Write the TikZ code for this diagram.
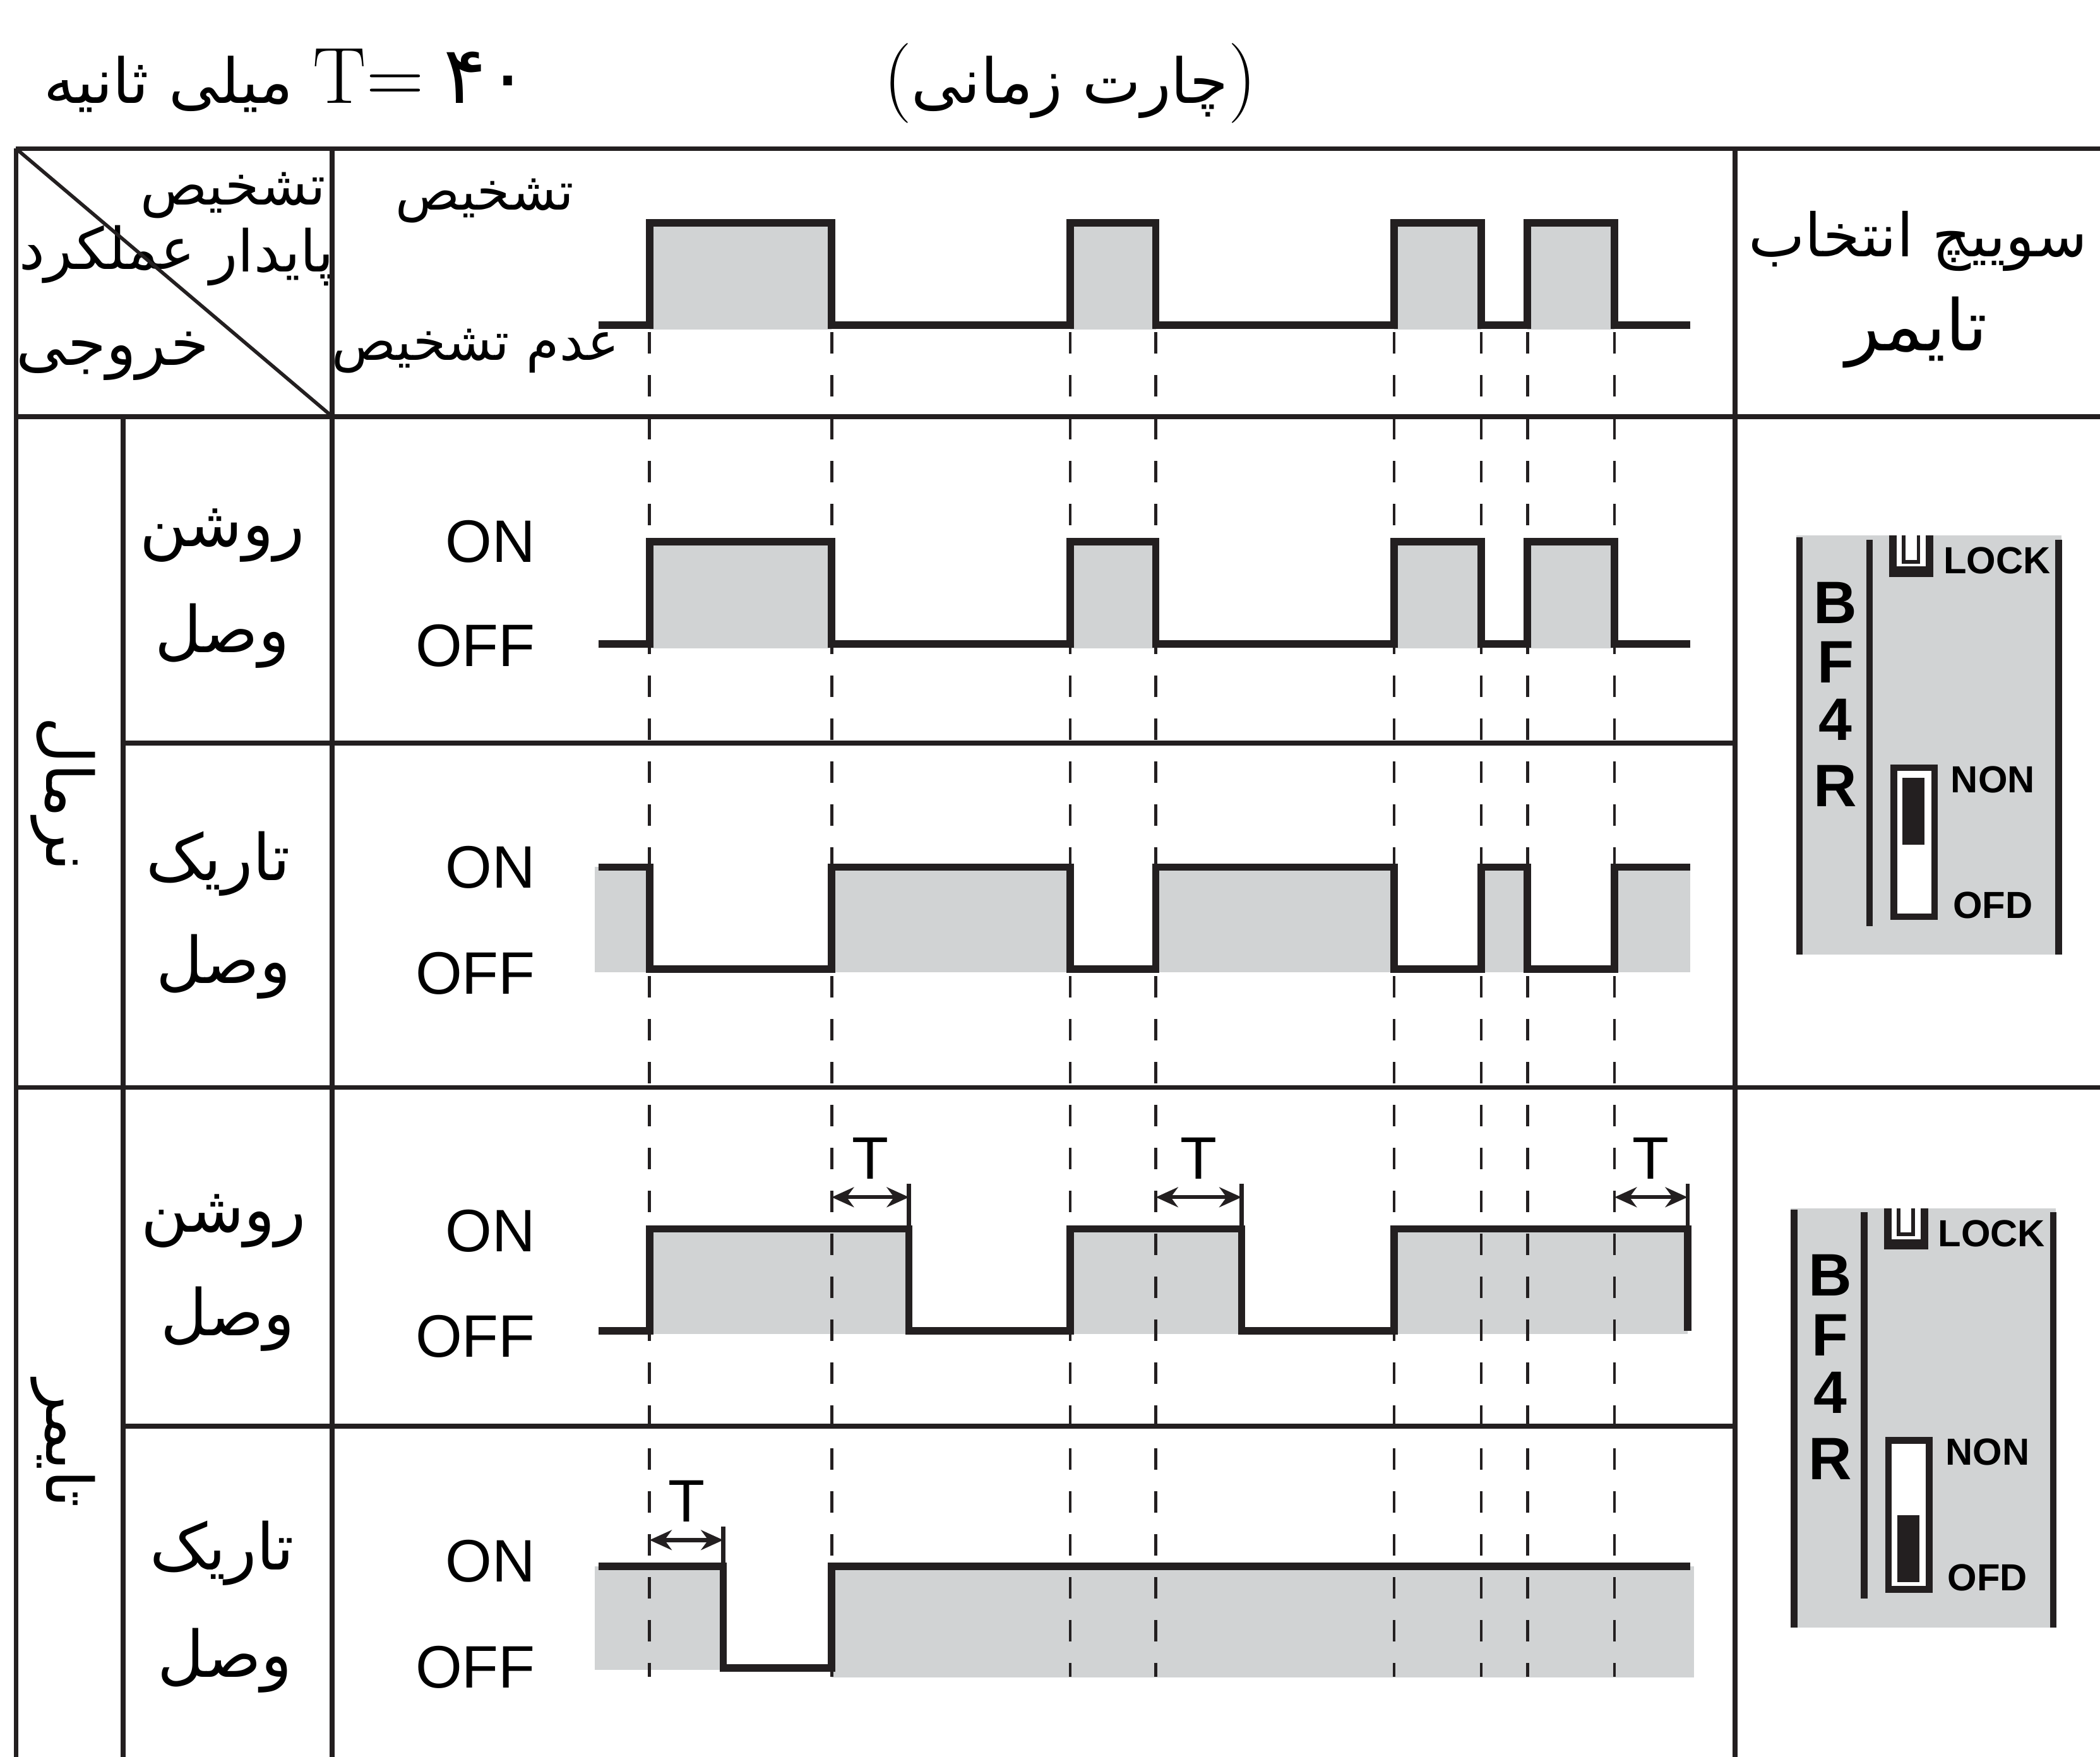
\documentclass[tikz,border=0pt]{standalone}
\usepackage{fontspec}
\usetikzlibrary{arrows.meta, positioning}
\newfontfamily\farsifont[Script=Arabic]{DejaVu Sans}
\newfontfamily\latinsans{Liberation Sans}
\TeXXeTstate=1
\definecolor{bandgray}{RGB}{209,211,212}
\definecolor{inkblack}{RGB}{35,31,32}
\newcommand{\fa}[1]{\beginR #1\endR}
\newcommand{\titleparen}[1]{{\rmfamily\fontsize{36}{40}\selectfont #1}}
\tikzset{%
	grid line/.style={draw=inkblack, line width=2.2pt},
	signal/.style={draw=inkblack, line width=3.3pt, line join=miter},
	transition line/.style={draw=inkblack, line width=1.3pt, dash pattern=on 0.34cm off 0.34cm},
	band/.style={fill=bandgray, draw=none},
	fa text/.style={inner sep=0pt, font=\farsifont\fontsize{29}{33}\selectfont},
	level text/.style={inner sep=0pt, anchor=east, font=\latinsans\fontsize{27}{30}\selectfont},
	delay text/.style={inner sep=0pt, font=\latinsans\fontsize{27}{30}\selectfont},
	delay arrow/.style={draw=inkblack, line width=1.8pt, {Stealth[length=10pt, width=9pt]}-{Stealth[length=10pt, width=9pt]}},
	switch rail/.style={draw=inkblack, line width=3pt},
	model text/.style={inner sep=0pt, font=\latinsans\bfseries\fontsize{27}{30}\selectfont},
	mode text/.style={inner sep=0pt, font=\latinsans\bfseries\fontsize{17}{20}\selectfont},
	pics/bfswitch/.style={code={
		\fill[bandgray] (0,0) rectangle (198,313);
		\draw[switch rail] (2.6,1) -- (2.6,313);
		\draw[switch rail] (55,3) -- (55,291.5);
		\draw[switch rail] (196,3) -- (196,313);
		\foreach \c/\yy [count=\i] in {B/50, F/94.5, 4/137.5, R/187}
			\node[model text] (-m\i) at (29.5,\yy) {\c};
		% lock mark
		\fill[inkblack] (69.6,0) rectangle (102.6,30.7);
		\fill[white] (75.3,0) rectangle (96.9,23);
		\draw[inkblack, line width=1.6pt] (80.5,0) |- (91.5,19.5) -- (91.5,0);
		\node[mode text] (-lock) at (150,18.7) {LOCK};
		\node[mode text] (-non) at (147,182) {NON};
		\node[mode text] (-ofd) at (147,276) {OFD};
		% slide
		\fill[inkblack] (70.6,170.8) rectangle (106,287);
		\fill[white] (75.6,175.8) rectangle (101,282);
		\fill[inkblack] (79.6,#1) rectangle (96,#1+50);
	}},
}
\begin{document}
\begin{tikzpicture}[x=0.021212cm, y=-0.021212cm]
	\useasboundingbox (0,0) rectangle (1568,1312);

	% titles
	\node[fa text, font=\farsifont\fontsize{28}{32}\selectfont] (chart) at (799,62)
		{\titleparen{(}\fa{چارت زمانی}\titleparen{)}};
	\node[fa text, font=\farsifont\fontsize{28}{32}\selectfont] (period) at (214,60)
		{\beginR\beginL{\rmfamily\fontsize{36}{40}\selectfont T=}~{\fontsize{36}{40}\selectfont ۴۰}\endL{} میلی ثانیه\endR};

	% header
	\node[fa text, font=\farsifont\fontsize{25}{29}\selectfont] (hd-detect) at (174,146) {تشخیص};
	\node[fa text, font=\farsifont\fontsize{26}{29}\selectfont] (hd-stable) at (203,192) {پایدار};
	\node[fa text, font=\farsifont\fontsize{26}{29}\selectfont] (hd-operate) at (80,190) {عملکرد};
	\node[fa text, font=\farsifont\fontsize{28}{32}\selectfont] (hd-output) at (84,266) {خروجی};
	\node[fa text, font=\farsifont\fontsize{24}{28}\selectfont] (in-on) at (362,150) {تشخیص};
	\node[fa text, font=\farsifont\fontsize{24}{28}\selectfont] (in-off) at (355,262) {\fa{عدم تشخیص}};
	\node[fa text, font=\farsifont\fontsize{27}{31}\selectfont] (sel-a) at (1432,180) {\fa{سوییچ انتخاب}};
	\node[fa text, font=\farsifont\fontsize{32}{36}\selectfont] (sel-b) at (1431,248) {تایمر};

	% groups and rows
	\node[fa text, rotate=-90] (grp-normal) at (47,593) {نرمال};
	\node[fa text, rotate=-90] (grp-timer) at (47,1078) {تایمر};
	\node[fa text] (row-a1) at (166,400) {روشن};
	\node[fa text] (row-a2) at (166,475) {وصل};
	\node[fa text] (row-b1) at (163,645) {تاریک};
	\node[fa text] (row-b2) at (167,722) {وصل};
	\node[fa text] (row-c1) at (167,912) {روشن};
	\node[fa text] (row-c2) at (170,985) {وصل};
	\node[fa text] (row-d1) at (166,1160) {تاریک};
	\node[fa text] (row-d2) at (168,1240) {وصل};

	\foreach \row/\hi/\lo in {a/404.5/482, b/647.5/727, c/919/998, d/1166/1245} {
		\node[level text] (on-\row) at (400,\hi) {ON};
		\node[level text] (off-\row) at (400,\lo) {OFF};
	}

	% gray bands
	\foreach \a/\b in {485/621, 799/863, 1041/1106, 1140.5/1205.5} {
		\fill[band] (\a,166.5) rectangle (\b,246);
		\fill[band] (\a,404.5) rectangle (\b,484);
	}
	\foreach \a/\b in {444/485, 621/799, 863/1041, 1106/1140.5, 1205.5/1262}
		\fill[band] (\a,647.5) rectangle (\b,726);
	\foreach \a/\b in {485/678.7, 799/927, 1041/1260}
		\fill[band] (\a,917.7) rectangle (\b,996);
	\fill[band] (444,1169.5) rectangle (540,1247);
	\fill[band] (621,1169.5) rectangle (1265,1252.5);

	% transitions
	\foreach \x in {485, 621, 799, 863, 1041, 1106, 1140.5, 1205.5}
		\draw[transition line] (\x,248) -- (\x,1252);

	% signals
	\draw[signal] (447,242.7) -| (485,166.5) -| (621,242.7) -| (799,166.5) -| (863,242.7)
		-| (1041,166.5) -| (1106,242.7) -| (1140.5,166.5) -| (1205.5,242.7) -- (1262,242.7);
	\draw[signal] (447,481) -| (485,404.5) -| (621,481) -| (799,404.5) -| (863,481)
		-| (1041,404.5) -| (1106,481) -| (1140.5,404.5) -| (1205.5,481) -- (1262,481);
	\draw[signal] (447,647.5) -| (485,723.7) -| (621,647.5) -| (799,723.7) -| (863,647.5)
		-| (1041,723.7) -| (1106,647.5) -| (1140.5,723.7) -| (1205.5,647.5) -- (1262,647.5);
	\draw[signal] (447,993.8) -| (485,917.7) -| (678.7,993.8) -| (799,917.7) -| (927,993.8)
		-| (1041,917.7) -| (1260,993.8);
	\draw[signal] (447,1169.5) -| (540,1245.4) -| (621,1169.5) -- (1262,1169.5);

	% delay T
	\foreach \n/\a/\b/\y/\h in {1/621/678.7/894/917.7, 2/863/927/894/917.7, 3/1205.5/1260/894/917.7, 4/485/540/1150/1169.5} {
		\coordinate (tstart\n) at (\a,\y);
		\coordinate (tend\n) at (\b,\y);
		\draw[delay arrow] (tstart\n) -- (tend\n);
		\draw[draw=inkblack, line width=1.8pt] (\b,\y-10) -- (\b,\h);
		\node[delay text] (tlabel\n) at ({(\a+\b)/2},\y-29) {T};
	}

	% table
	\foreach \y in {111, 311, 812}
		\draw[grid line] (12,\y) -- (1568,\y);
	\foreach \y in {555, 1065}
		\draw[grid line] (92,\y) -- (1295.5,\y);
	\draw[grid line] (12,111) -- (12,1312);
	\draw[grid line] (92,311) -- (92,1312);
	\draw[grid line] (248,111) -- (248,1312);
	\draw[grid line] (1295.5,111) -- (1295.5,1312);
	\draw[grid line, line width=1.6pt] (12,111) -- (248,311);

	% switches
	\pic (swa) at (1341,400) {bfswitch=181};
	\pic (swb) at (1337,902.3) {bfswitch=229};
\end{tikzpicture}
\end{document}
